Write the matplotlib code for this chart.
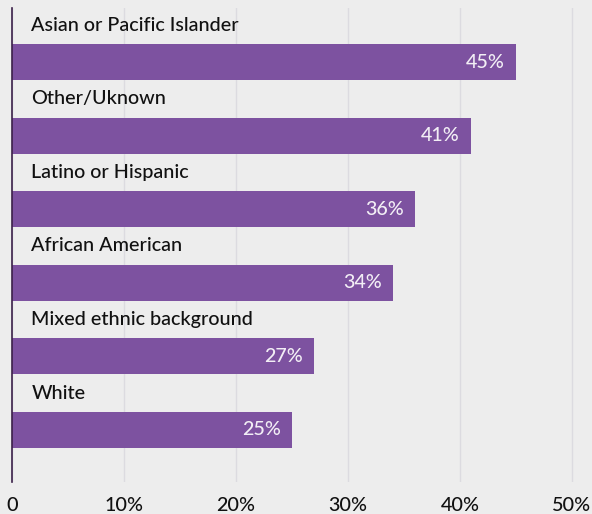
import matplotlib
matplotlib.use("Agg")
import matplotlib.pyplot as plt
from matplotlib.ticker import FuncFormatter

categories = [
    "Asian or Pacific Islander",
    "Other/Uknown",
    "Latino or Hispanic",
    "African American",
    "Mixed ethnic background",
    "White",
]
values = [45, 41, 36, 34, 27, 25]
tick_values = [0, 10, 20, 30, 40, 50]

BG = "#ededed"
BAR = "#7d52a0"
GRID = "#dcdbe0"
AXIS = "#3b2049"
FS = 14.2

plt.rcParams["font.family"] = ["Lato", "DejaVu Sans"]

fig = plt.figure(figsize=(5.92, 5.14), dpi=100, facecolor=BG)
ax = fig.add_axes([12 / 592, 32 / 514, 580 / 592, 474 / 514])
ax.set_facecolor(BG)

ypos = list(range(len(categories)))
bar_h = 0.49
ax.barh(ypos, values, height=bar_h, color=BAR, zorder=3)

for y, cat, v in zip(ypos, categories, values):
    ax.annotate(cat, xy=(0, y - 0.5), xytext=(14, 0), textcoords="offset points",
                ha="left", va="center", fontsize=FS, fontweight="medium",
                color="#111111", zorder=4)
    ax.annotate(f"{v}%", xy=(v, y), xytext=(-8, 0), textcoords="offset points",
                ha="right", va="center", fontsize=FS, fontweight="medium",
                color="#f2eef5", zorder=4)

ax.set_xlim(0, 50 * 580 / 560)
ax.set_ylim(len(categories) - 1 + 0.707, -0.734)

ax.set_xticks(tick_values)
ax.xaxis.set_major_formatter(FuncFormatter(lambda x, _: "0" if x == 0 else f"{x:.0f}%"))
ax.tick_params(axis="x", length=0, pad=11, labelsize=FS, labelcolor="#111111")
for lbl in ax.get_xticklabels():
    lbl.set_fontweight("medium")
ax.set_yticks([])

ax.grid(axis="x", color=GRID, linewidth=1, zorder=1)
for side in ["top", "right", "bottom"]:
    ax.spines[side].set_visible(False)
ax.spines["left"].set_color(AXIS)
ax.spines["left"].set_linewidth(1.2)
ax.spines["left"].set_zorder(5)

fig.savefig("out.png", dpi=100, facecolor=BG)
